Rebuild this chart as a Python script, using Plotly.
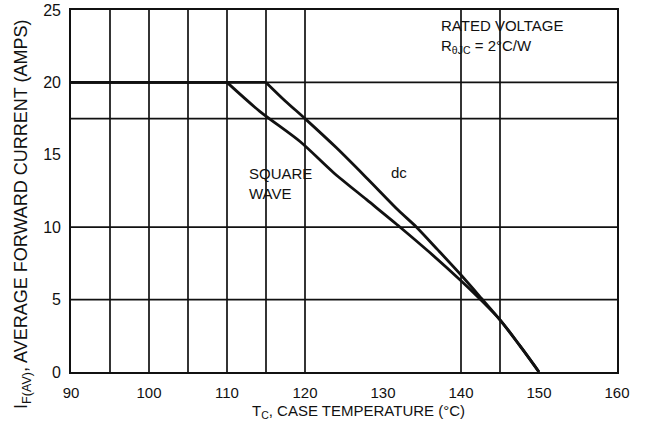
import plotly.graph_objects as go

# Data
flat_dc_t = [90, 115]
flat_dc_a = [20, 20]
temp_dc = [115, 117.5, 120, 124, 128, 132, 134.3, 137, 140, 142.6, 145, 147.5, 150]
amps_dc = [20, 18.7, 17.5, 15.5, 13.35, 11.15, 10.0, 8.45, 6.7, 5.1, 3.6, 1.85, 0]

flat_sq_t = [90, 110]
flat_sq_a = [20, 20]
temp_sq = [110, 114.2, 119.4, 123.6, 127.9, 132.2, 136, 140, 142.5, 145, 147.5, 150]
amps_sq = [20, 18.0, 15.9, 13.8, 11.9, 10.0, 8.25, 6.3, 5.0, 3.6, 1.85, 0]

x_ticks = [90, 100, 110, 120, 130, 140, 150, 160]
y_ticks = [0, 5, 10, 15, 20, 25]
grid_x = [95, 100, 105, 110, 115, 120, 140, 145]
grid_y = [5, 10, 17.5, 20]

FONT = "Liberation Sans"
INK = "#111111"

fig = go.Figure()
for tx, ay, shape in [(flat_dc_t, flat_dc_a, "linear"), (temp_dc, amps_dc, "spline"),
                      (flat_sq_t, flat_sq_a, "linear"), (temp_sq, amps_sq, "spline")]:
    fig.add_trace(go.Scatter(x=tx, y=ay, mode="lines",
                             line=dict(color=INK, width=2.8, shape=shape, smoothing=0.8),
                             showlegend=False))

shapes = []
for gx in grid_x:
    shapes.append(dict(type="line", xref="x", yref="paper", x0=gx, x1=gx, y0=0, y1=1,
                       line=dict(color=INK, width=1.7), layer="below"))
for gy in grid_y:
    shapes.append(dict(type="line", xref="paper", yref="y", x0=0, x1=1, y0=gy, y1=gy,
                       line=dict(color=INK, width=1.7), layer="below"))

annotations = [
    dict(x=112.6, y=13.05, xref="x", yref="y", text="SQUARE<br>WAVE", showarrow=False,
         xanchor="left", yanchor="middle", align="left",
         font=dict(family=FONT, size=15, color=INK)),
    dict(x=132.1, y=13.75, xref="x", yref="y", text="dc", showarrow=False,
         xanchor="center", yanchor="middle",
         font=dict(family=FONT, size=15, color=INK)),
    dict(x=137.2, y=23.15, xref="x", yref="y",
         text="RATED VOLTAGE<br>R<sub>θJC</sub> = 2°C/W", showarrow=False,
         xanchor="left", yanchor="middle", align="left",
         font=dict(family=FONT, size=15, color=INK)),
    dict(x=0, y=0.434, xref="paper", yref="paper", xshift=-48,
         text="I<sub>F(AV)</sub>, AVERAGE FORWARD CURRENT (AMPS)", showarrow=False,
         textangle=-90, xanchor="center", yanchor="middle",
         font=dict(family=FONT, size=18, color=INK)),
    dict(x=0.526, y=0, xref="paper", yref="paper", yshift=-39,
         text="T<sub>C</sub>, CASE TEMPERATURE (°C)", showarrow=False,
         xanchor="center", yanchor="middle",
         font=dict(family=FONT, size=15, color=INK)),
]

fig.update_layout(
    width=645, height=428,
    margin=dict(l=71, r=28, t=10, b=56, autoexpand=False),
    paper_bgcolor="white", plot_bgcolor="white",
    shapes=shapes, annotations=annotations,
    font=dict(family=FONT, size=15, color=INK),
)
fig.update_xaxes(range=[90, 160], tickvals=x_ticks, showgrid=False, zeroline=False,
                 showline=True, linecolor=INK, linewidth=1.7, mirror=True, automargin=False,
                 ticks="", ticklabelstandoff=6, tickfont=dict(family=FONT, size=15, color=INK))
fig.update_yaxes(range=[0, 25], tickvals=y_ticks, showgrid=False, zeroline=False,
                 showline=True, linecolor=INK, linewidth=1.7, mirror=True, automargin=False,
                 ticks="", ticklabelstandoff=5, tickfont=dict(family=FONT, size=16, color=INK))

fig.write_html("out.html", config={"displayModeBar": False},
               post_script="document.body.style.margin='0';")
